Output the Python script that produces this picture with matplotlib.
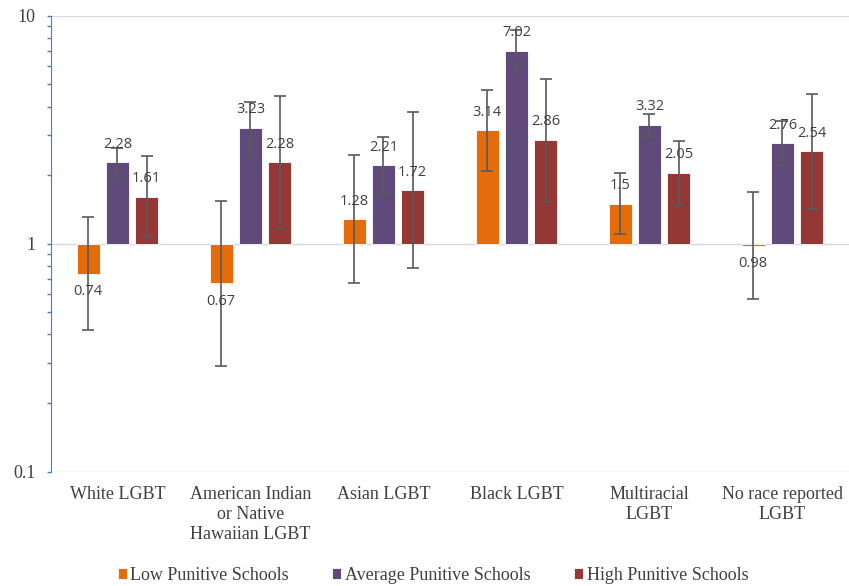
import numpy as np
import matplotlib.pyplot as plt
from matplotlib.ticker import LogLocator, NullFormatter

categories = ['White LGBT', 'American Indian\nor Native\nHawaiian LGBT', 'Asian LGBT',
              'Black LGBT', 'Multiracial\nLGBT', 'No race reported\nLGBT']
series = ['Low Punitive Schools', 'Average Punitive Schools', 'High Punitive Schools']
colors = ['#E46C0A', '#604A7B', '#953735']

low = [0.74, 0.67, 1.28, 3.14, 1.5, 0.98]
avg = [2.28, 3.23, 2.21, 7.02, 3.32, 2.76]
high = [1.61, 2.28, 1.72, 2.86, 2.05, 2.54]

# confidence intervals (lower, upper)
low_ci = [(0.42, 1.31), (0.29, 1.54), (0.67, 2.46), (2.09, 4.74), (1.10, 2.05), (0.57, 1.69)]
avg_ci = [(1.93, 2.64), (2.48, 4.20), (1.66, 2.95), (5.80, 8.70), (2.95, 3.72), (2.22, 3.46)]
high_ci = [(1.08, 2.43), (1.16, 4.46), (0.785, 3.79), (1.53, 5.29), (1.48, 2.83), (1.42, 4.55)]

values = [low, avg, high]
cis = [low_ci, avg_ci, high_ci]

fig = plt.figure(figsize=(8.49, 5.86), dpi=100)
ax = fig.add_axes([0.06, 0.195, 0.94, 0.778])
ax.set_yscale('log')
ax.set_ylim(0.1, 10)
ax.set_xlim(-0.5, 5.5)

x = np.arange(len(categories))
width = 0.172
offsets = [-0.22, 0, 0.22]

for vals, ci, col, off, name in zip(values, cis, colors, offsets, series):
    v = np.array(vals)
    lo = np.array([c[0] for c in ci])
    hi = np.array([c[1] for c in ci])
    ax.bar(x + off, v - 1, bottom=1, width=width, color=col, edgecolor='white',
           linewidth=0.6, label=name, zorder=2)
    ax.errorbar(x + off, v, yerr=[v - lo, hi - v], fmt='none', ecolor='#595959',
                elinewidth=1.2, capsize=4, capthick=1.2, zorder=3)
    for xi, vi in zip(x + off, v):
        dy = 13 if vi >= 1 else -13
        ax.annotate(f'{vi:g}', (xi, vi), textcoords='offset points', xytext=(0, dy),
                    ha='center', va='center', fontsize=10.5, color='#404040',
                    family='Open Sans', zorder=4)

ax.yaxis.set_minor_locator(LogLocator(base=10, subs=np.arange(2, 10), numticks=10))
ax.yaxis.set_minor_formatter(NullFormatter())
ax.set_yticks([0.1, 1, 10])
ax.set_yticklabels(['0.1', '1', '10'])
ax.grid(axis='y', which='major', color='#D9D9D9', linewidth=1, zorder=0)

for s in ['top', 'right', 'bottom']:
    ax.spines[s].set_visible(False)
ax.spines['left'].set_color('#4A7EBB')
ax.tick_params(axis='y', which='both', colors='#4A7EBB', direction='out', length=3,
               width=1, labelcolor='#404040', labelsize=13, pad=8)
for lab in ax.get_yticklabels():
    lab.set_family('Liberation Serif')

ax.set_xticks(x)
ax.set_xticklabels(categories, family='Liberation Serif', fontsize=13, color='#404040',
                   linespacing=1.25)
ax.tick_params(axis='x', length=0, pad=10)

leg = fig.legend(loc='center', bbox_to_anchor=(0.51, 0.018), ncol=3, frameon=False,
                 prop={'family': 'Liberation Serif', 'size': 13}, handlelength=0.5,
                 handleheight=0.5, handletextpad=0.2, columnspacing=2.4)
for t in leg.get_texts():
    t.set_color('#404040')

fig.savefig('out.png', dpi=100)
